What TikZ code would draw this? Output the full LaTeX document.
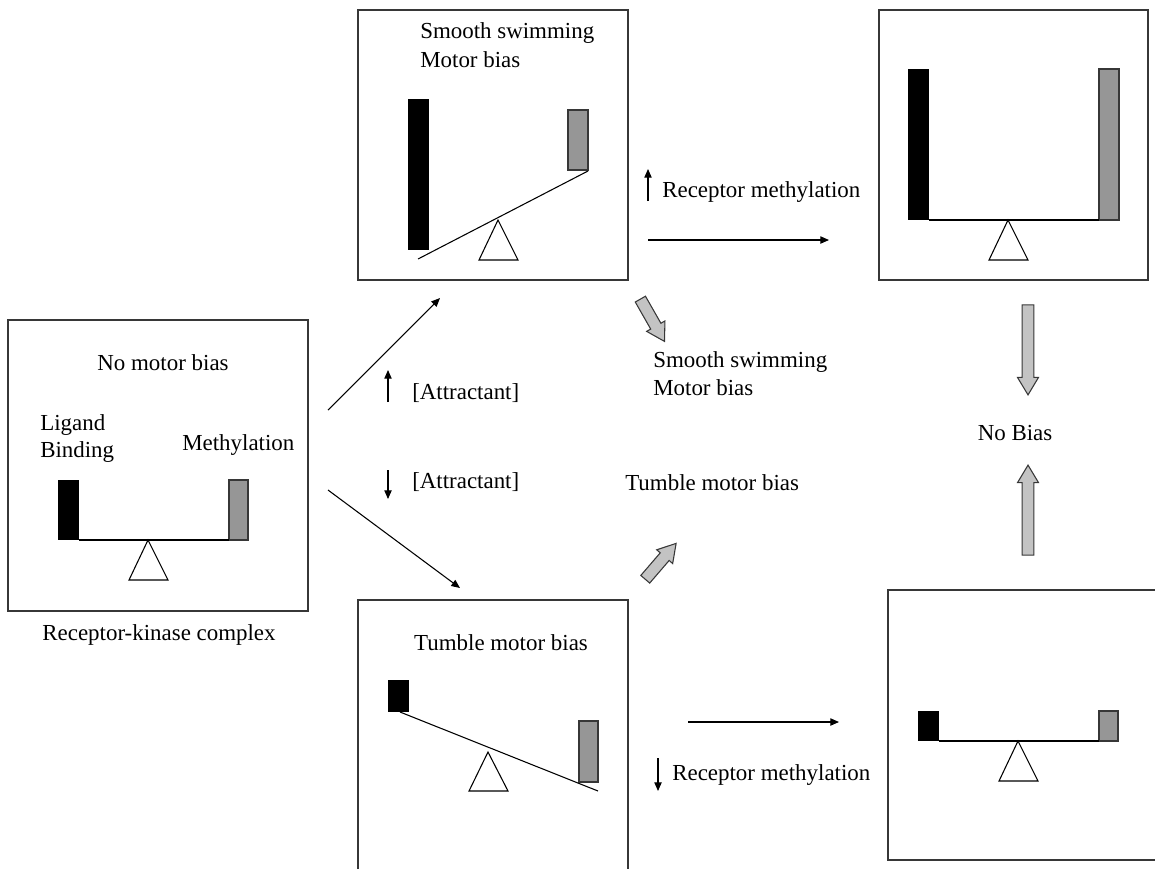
\documentclass[tikz,border=0pt]{standalone}
\usepackage{fontspec}
\setmainfont{Liberation Serif}
\usetikzlibrary{shapes.arrows,arrows.meta}
\definecolor{bargray}{RGB}{150,150,150}
\definecolor{arrgray}{RGB}{195,195,195}
\definecolor{framec}{RGB}{55,55,55}
\begin{document}
\begin{tikzpicture}[x=0.75pt,y=-0.75pt,
 lbl/.style={font=\fontsize{17.2pt}{20pt}\selectfont, inner sep=0pt},
 frame/.style={draw=framec, line width=0.9pt},
 blackbar/.style={fill=black},
 graybar/.style={fill=bargray, draw=framec, line width=0.8pt},
 beam/.style={line width=0.8pt},
 fulcrum/.style={draw, line width=0.8pt, fill=white, line join=miter},
 thinarrow/.style={line width=0.8pt, -{Triangle[length=6.5pt,width=5.5pt]}},
 blockarrow/.style={single arrow, draw=framec, fill=arrgray, line width=0.8pt, inner sep=4pt, single arrow head extend=3.5pt, single arrow tip angle=62, minimum width=15pt}
]
\useasboundingbox (0,0) rectangle (1155,869);

% ---------- Panel A : receptor-kinase complex ----------
\node[frame, minimum width=225pt, minimum height=218.25pt, inner sep=0pt] (pA) at (158,465.5) {};
\node[lbl, anchor=base] (tA) at (163,370) {No motor bias};
\node[lbl, anchor=base west] (tLig) at (40,430) {Ligand};
\node[lbl, anchor=base west] (tBin) at (40,457) {Binding};
\node[lbl, anchor=base west] (tMet) at (182,450) {Methylation};
\fill[blackbar] (58,480) rectangle (79,540);
\draw[graybar] (229,480) rectangle (248,540);
\draw[beam] (79,540) -- (229,540);
\draw[fulcrum] (148,540) -- (129,580) -- (168,580) -- cycle;
\node[lbl, anchor=base] (tRKC) at (159,640) {Receptor-kinase complex};

% ---------- Panel B : smooth swimming ----------
\node[frame, minimum width=202.5pt, minimum height=202.5pt, inner sep=0pt] (pB) at (493,145) {};
\node[lbl, anchor=base west] (tB1) at (420,38) {Smooth swimming};
\node[lbl, anchor=base west] (tB2) at (420,67) {Motor bias};
\fill[blackbar] (408,99) rectangle (429,250);
\draw[graybar] (568,110) rectangle (588,170);
\draw[beam] (418,259) -- (588,171);
\draw[fulcrum] (498,220) -- (479,260) -- (518,260) -- cycle;

% ---------- Panel C : adapted (high) ----------
\node[frame, minimum width=201.75pt, minimum height=202.5pt, inner sep=0pt] (pC) at (1013.5,145) {};
\fill[blackbar] (908,69) rectangle (929,220);
\draw[graybar] (1099,69) rectangle (1119,220);
\draw[beam] (929,220) -- (1099,220);
\draw[fulcrum] (1008,220) -- (989,260) -- (1028,260) -- cycle;

% ---------- Panel D : tumble ----------
\draw[frame] (358,869) -- (358,600) -- (628,600) -- (628,869);
\node[lbl, anchor=base] (tD) at (501,650) {Tumble motor bias};
\fill[blackbar] (388,680) rectangle (409,712);
\draw[graybar] (579,721) rectangle (598,782);
\draw[beam] (400,712) -- (598,791);
\draw[fulcrum] (488,752) -- (469,791) -- (508,791) -- cycle;

% ---------- Panel E : adapted (low) ----------
\draw[frame] (1155,590) -- (888,590) -- (888,860) -- (1155,860);
\fill[blackbar] (918,711) rectangle (939,741);
\draw[graybar] (1099,711) rectangle (1118,741);
\draw[beam] (939,741) -- (1099,741);
\draw[fulcrum] (1018,741) -- (999,781) -- (1038,781) -- cycle;

% ---------- connectors ----------
\coordinate (a1s) at (328,410);
\coordinate (a1e) at (440,298);
\draw[thinarrow] (a1s) -- (a1e);
\coordinate (a2s) at (328,490);
\coordinate (a2e) at (460,588);
\draw[thinarrow] (a2s) -- (a2e);

\coordinate (u1s) at (388,402);
\coordinate (u1e) at (388,370);
\draw[thinarrow] (u1s) -- (u1e);
\node[lbl, anchor=base west] (tAt1) at (412,399) {[Attractant]};
\coordinate (d1s) at (388,470);
\coordinate (d1e) at (388,499);
\draw[thinarrow] (d1s) -- (d1e);
\node[lbl, anchor=base west] (tAt2) at (412,488) {[Attractant]};

\coordinate (u2s) at (648,201);
\coordinate (u2e) at (648,169);
\draw[thinarrow] (u2s) -- (u2e);
\node[lbl, anchor=base west] (tRm1) at (662,197) {Receptor methylation};
\coordinate (h1s) at (648,240);
\coordinate (h1e) at (829,240);
\draw[thinarrow] (h1s) -- (h1e);

\coordinate (h2s) at (688,722);
\coordinate (h2e) at (839,722);
\draw[thinarrow] (h2s) -- (h2e);
\coordinate (d2s) at (658,758);
\coordinate (d2e) at (658,791);
\draw[thinarrow] (d2s) -- (d2e);
\node[lbl, anchor=base west] (tRm2) at (672,780) {Receptor methylation};

% ---------- outcome labels ----------
\node[lbl, anchor=base west] (tS1) at (653,367) {Smooth swimming};
\node[lbl, anchor=base west] (tS2) at (653,395) {Motor bias};
\node[lbl, anchor=base west] (tT) at (625,490) {Tumble motor bias};
\node[lbl, anchor=base] (tNB) at (1015,440) {No Bias};

% ---------- block arrows ----------
\node[blockarrow, minimum height=36.5pt, rotate=-60.3] (g1) at (650,316) {};
\node[blockarrow, minimum height=35.5pt, rotate=49.3] (g2) at (657.5,565) {};
\node[blockarrow, minimum height=67.5pt, rotate=-90] (g3) at (1028,345) {};
\node[blockarrow, minimum height=67.5pt, rotate=90] (g4) at (1028,515) {};
\end{tikzpicture}
\end{document}
